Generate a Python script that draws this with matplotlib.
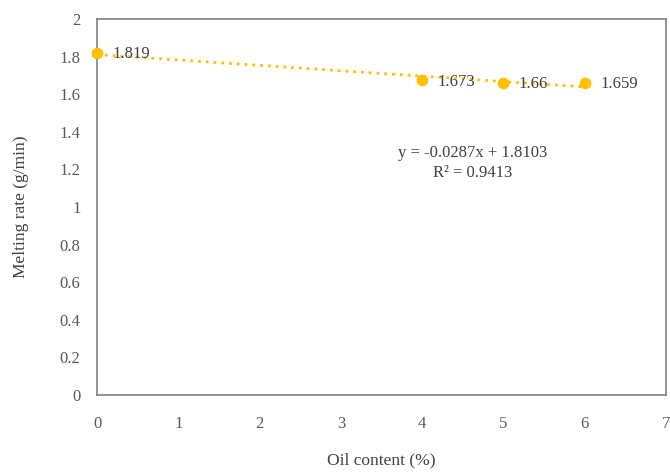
import numpy as np
import matplotlib.pyplot as plt

plt.rcParams["font.family"] = ["Liberation Serif", "DejaVu Serif"]

# data
oil_content = [0, 4, 5, 6]
melting_rate = [1.819, 1.673, 1.66, 1.659]
point_labels = ["1.819", "1.673", "1.66", "1.659"]
x_ticks = [0, 1, 2, 3, 4, 5, 6, 7]
y_ticks = [0, 0.2, 0.4, 0.6, 0.8, 1, 1.2, 1.4, 1.6, 1.8, 2]
y_tick_labels = ["0", "0.2", "0.4", "0.6", "0.8", "1", "1.2", "1.4", "1.6", "1.8", "2"]

gold = "#FFC000"
grey = "#595959"
text_col = "#404040"

fig = plt.figure(figsize=(6.7, 4.73), dpi=100)
ax = fig.add_axes([0.145, 0.165, 0.849, 0.795])

# linear trendline fitted to the data (Excel-style)
slope, intercept = np.polyfit(oil_content, melting_rate, 1)
pred = slope * np.array(oil_content) + intercept
ss_res = np.sum((np.array(melting_rate) - pred) ** 2)
ss_tot = np.sum((np.array(melting_rate) - np.mean(melting_rate)) ** 2)
r2 = 1 - ss_res / ss_tot
xs = np.array([min(oil_content), max(oil_content)])
ax.plot(xs, slope * xs + intercept, color=gold, linestyle=(0, (1, 1.8)),
        linewidth=2, zorder=2)

ax.scatter(oil_content, melting_rate, s=55, color=gold, zorder=3, clip_on=False)

for x, y, lab in zip(oil_content, melting_rate, point_labels):
    ax.annotate(lab, (x, y), xytext=(11, -1), textcoords="offset points",
                ha="left", va="center", fontsize=12, color=text_col)

ax.text(4.62, 1.235, f"y = {slope:.4f}x + {intercept:.4f}\nR² = {r2:.4f}",
        ha="center", va="center", fontsize=12, color=text_col, linespacing=1.3)

ax.set_xlim(0, 7)
ax.set_ylim(0, 2)
ax.set_xticks(x_ticks)
ax.set_yticks(y_ticks)
ax.set_yticklabels(y_tick_labels)
ax.tick_params(length=0, labelsize=12, labelcolor=grey)
ax.tick_params(axis="x", pad=15)
ax.tick_params(axis="y", pad=12)
for sp in ax.spines.values():
    sp.set_color("#808080")
    sp.set_linewidth(1.2)

ax.set_xlabel("Oil content (%)", fontsize=12.5, color=text_col, labelpad=15)
ax.set_ylabel("Melting rate (g/min)", fontsize=12.5, color=text_col, labelpad=22)

fig.savefig("out.png", dpi=100)
